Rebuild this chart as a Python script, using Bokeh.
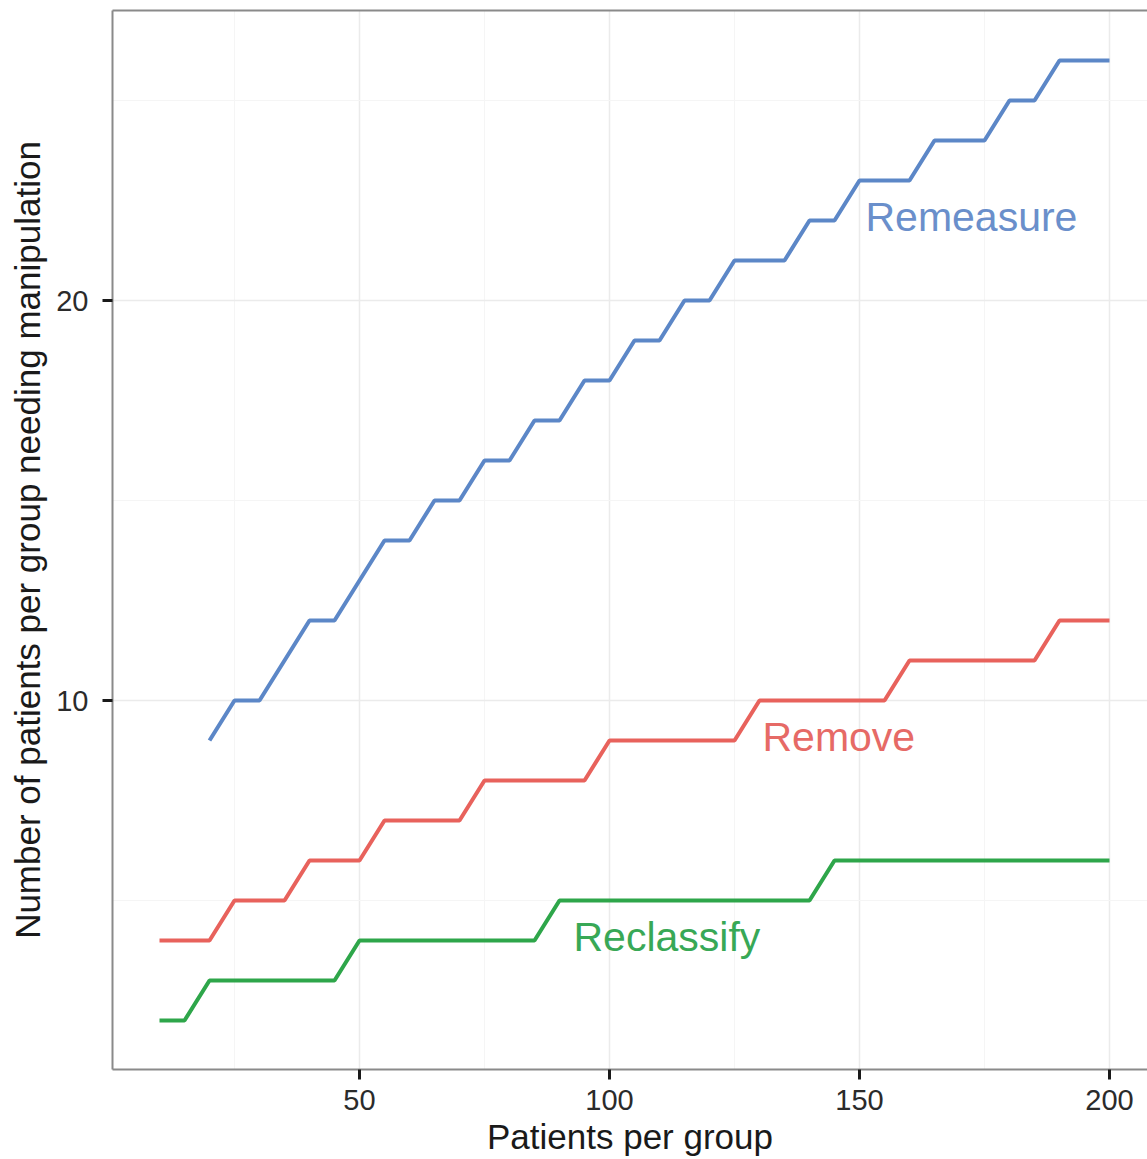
from bokeh.plotting import figure
from bokeh.models import SingleIntervalTicker, FixedTicker, LinearAxis, Range1d
from bokeh.core.properties import value
from bokeh.embed import file_html
from bokeh.resources import INLINE

# Data
x_remeasure = [20, 25, 30, 35, 40, 45, 50, 55, 60, 65, 70, 75, 80, 85, 90, 95, 100,
               105, 110, 115, 120, 125, 130, 135, 140, 145, 150, 155, 160, 165, 170,
               175, 180, 185, 190, 195, 200]
remeasure = [9, 10, 10, 11, 12, 12, 13, 14, 14, 15, 15, 16, 16, 17, 17, 18, 18,
             19, 19, 20, 20, 21, 21, 21, 22, 22, 23, 23, 23, 24, 24,
             24, 25, 25, 26, 26, 26]
x_all = [10, 15, 20, 25, 30, 35, 40, 45, 50, 55, 60, 65, 70, 75, 80, 85, 90, 95, 100,
         105, 110, 115, 120, 125, 130, 135, 140, 145, 150, 155, 160, 165, 170,
         175, 180, 185, 190, 195, 200]
remove = [4, 4, 4, 5, 5, 5, 6, 6, 6, 7, 7, 7, 7, 8, 8, 8, 8, 8, 9,
          9, 9, 9, 9, 9, 10, 10, 10, 10, 10, 10, 11, 11, 11,
          11, 11, 11, 12, 12, 12]
reclassify = [2, 2, 3, 3, 3, 3, 3, 3, 4, 4, 4, 4, 4, 4, 4, 4, 5, 5, 5,
              5, 5, 5, 5, 5, 5, 5, 5, 6, 6, 6, 6, 6, 6,
              6, 6, 6, 6, 6, 6]

labels = ["Remeasure", "Remove", "Reclassify"]
label_x = [151.2, 130.6, 92.8]
label_y = [22.1, 9.1, 4.1]
colors = ["#5C87C7", "#E8625C", "#2EA64A"]
text_colors = ["#6A8FCB", "#E66A66", "#38A856"]

FONT = "Liberation Sans"

p = figure(width=1147, height=1159, output_backend="svg", toolbar_location=None,
           x_range=Range1d(0.6, 207.6), y_range=Range1d(0.775, 27.25),
           min_border_left=112, min_border_right=0, min_border_top=10,
           min_border_bottom=90)
p.outline_line_color = None
p.background_fill_color = "white"
p.border_fill_color = "white"

p.xaxis.ticker = SingleIntervalTicker(interval=50, num_minor_ticks=2)
p.yaxis.ticker = SingleIntervalTicker(interval=10, num_minor_ticks=2)

p.xgrid.grid_line_color = "#EBEBEB"
p.ygrid.grid_line_color = "#EBEBEB"
p.xgrid.grid_line_width = 1.5
p.ygrid.grid_line_width = 1.5
p.xgrid.minor_grid_line_color = "#F5F5F5"
p.ygrid.minor_grid_line_color = "#F5F5F5"
p.xgrid.minor_grid_line_width = 1
p.ygrid.minor_grid_line_width = 1

for ax in (p.xaxis[0], p.yaxis[0]):
    ax.axis_line_color = "#8A8A8A"
    ax.axis_line_width = 2
    ax.major_tick_line_color = "#1A1A1A"
    ax.major_tick_line_width = 3
    ax.major_tick_out = 10
    ax.major_tick_in = 0
    ax.minor_tick_line_color = None
    ax.major_label_text_font = FONT
    ax.major_label_text_font_size = "29px"
    ax.major_label_text_color = "#2B2B2B"
    ax.axis_label_text_font = FONT
    ax.axis_label_text_font_size = "35px"
    ax.axis_label_text_font_style = "normal"
    ax.axis_label_text_color = "#1A1A1A"

p.xaxis.axis_label = "Patients per group"
p.yaxis.axis_label = "Number of patients per group needing manipulation"
p.xaxis.major_label_standoff = 10
p.xaxis.axis_label_standoff = 4
p.yaxis.major_label_standoff = 14
p.yaxis.axis_label_standoff = 6

top_axis = LinearAxis(ticker=FixedTicker(ticks=[]), axis_line_color="#8A8A8A",
                      axis_line_width=2, major_tick_line_color=None,
                      minor_tick_line_color=None, major_label_text_font_size="0px",
                      major_label_standoff=0, axis_label_standoff=0)
p.add_layout(top_axis, "above")

series = [(x_remeasure, remeasure), (x_all, remove), (x_all, reclassify)]
for (xs, ys), c in zip(series, colors):
    p.line(xs, ys, line_color=c, line_width=4)

for lab, lx, ly, tc in zip(labels, label_x, label_y, text_colors):
    p.text(x=[lx], y=[ly], text=[lab], text_color=tc, text_font=value(FONT),
           text_font_size="41px", text_align="left", text_baseline="alphabetic")

open("out.html", "w").write(file_html(p, INLINE))
